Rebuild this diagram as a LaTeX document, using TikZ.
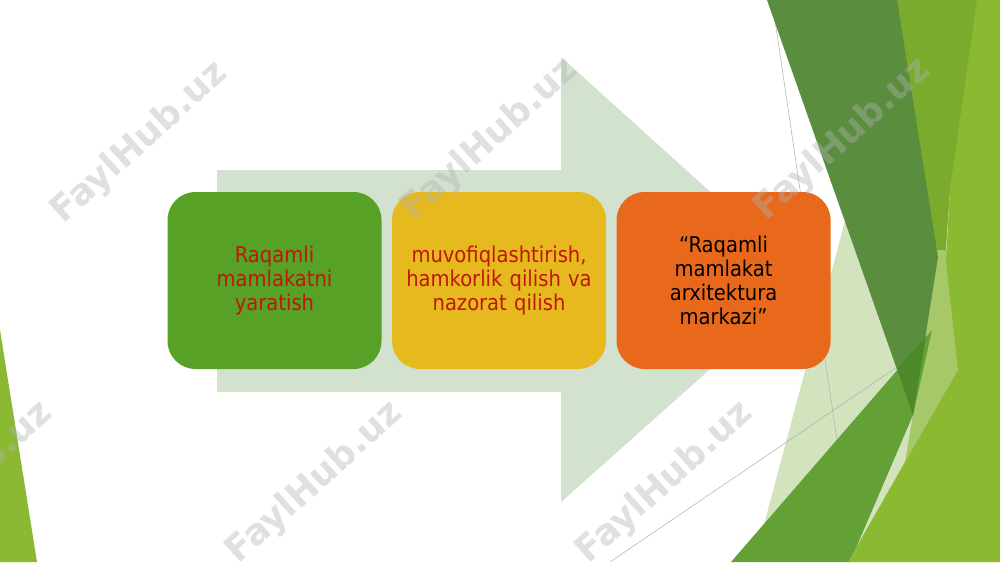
\documentclass[tikz,border=0pt]{standalone}
\usepackage{fontspec}
\setmainfont{DejaVu Sans Condensed}
\newfontfamily\markfont{DejaVu Sans}
\usetikzlibrary{positioning}

\definecolor{arrowfill}{HTML}{D3E2CF}
\definecolor{boxgreen}{HTML}{57A126}
\definecolor{boxyellow}{HTML}{E6B91F}
\definecolor{boxorange}{HTML}{E8691B}
\definecolor{textred}{HTML}{C0170B}
\definecolor{palegreen}{HTML}{D2E3BE}
\definecolor{darkfacet}{HTML}{5A8E3E}
\definecolor{deepfacet}{HTML}{4C8A29}
\definecolor{midfacet}{HTML}{7BAB2D}
\definecolor{stripfacet}{HTML}{A6C869}
\definecolor{grassfacet}{HTML}{63A137}
\definecolor{lightfacet}{HTML}{8BB932}

\begin{document}
\begin{tikzpicture}
  [x=0.75pt, y=-0.75pt,
   stage/.style={rounded corners=21pt, minimum width=160.5pt, minimum height=132.75pt,
     text width=150pt, align=center, inner sep=0pt,
     font=\fontsize{16.3}{18}\selectfont},
   guide/.style={draw=gray!60, line width=0.4pt},
   wmark/.style={rotate=42, text=gray!60, opacity=0.4,
     font=\markfont\bfseries\fontsize{27}{30}\selectfont}]
  \clip (0,0) rectangle (1000,562);
  \fill[white] (0,0) rectangle (1000,562);

  % facets on the right
  \fill[palegreen] (904,0) -- (1000,0) -- (1000,562) -- (754,562) -- cycle;
  \draw[guide] (772,0) -- (855,562);
  \draw[guide] (610,562) -- (900,365);
  \fill[midfacet] (890,0) -- (980,0) -- (950,190) -- (945,262) -- (930,262) -- cycle;
  \fill[stripfacet] (930,250) -- (956,250) -- (958,370) -- (905,462) -- (913,415) -- cycle;
  \fill[darkfacet] (767,0) -- (897,0) -- (938,257) -- (913,415) -- cycle;
  \fill[grassfacet] (731,562) -- (932,330) -- (913,415) -- (850,562) -- cycle;
  \fill[deepfacet] (897,369) -- (926,336) -- (913,415) -- cycle;
  \fill[lightfacet] (977,0) -- (1000,0) -- (1000,562) -- (848,562) -- (905,462)
    -- (958,370) -- (946,262) -- (950,190) -- cycle;
  % facet on the left
  \fill[lightfacet] (0,330) -- (37,562) -- (0,562) -- cycle;

  % big arrow behind the stages
  \fill[arrowfill] (217,170) -- (561,170) -- (561,57) -- (809,281) -- (561,502)
    -- (561,392) -- (217,392) -- cycle;

  \node (raqam) at (274.5,280.5) [stage, fill=boxgreen, text=textred]
    {Raqamli\\mamlakatni\\yaratish};
  \node (muvof) [stage, fill=boxyellow, text=textred, right=7.5pt of raqam]
    {muvofiqlashtirish,\\hamkorlik qilish va\\nazorat qilish};
  \node (markaz) [stage, fill=boxorange, text=black, right=7.5pt of muvof]
    {“Raqamli\\mamlakat\\arxitektura\\markazi”};

  \foreach \wx/\wy [count=\i] in {140/143, 490/140, 843/140, -35/483, 315/483, 665/483}
    \node (wm\i) at (\wx,\wy) [wmark] {FaylHub.uz};
\end{tikzpicture}
\end{document}
